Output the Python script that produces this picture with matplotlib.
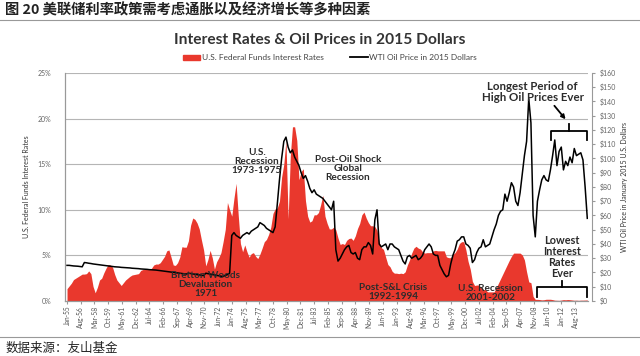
import matplotlib
matplotlib.use('Agg')
import matplotlib.pyplot as plt
import numpy as np

plt.rcParams['font.family'] = ['Lato', 'Noto Sans CJK SC', 'DejaVu Sans']

start_year = 1955
# quarterly values, 1955 Q1 .. 2015 Q1
fed_rate = [
    1.35, 1.65, 1.95, 2.35,   2.5, 2.65, 2.8, 2.95,   2.95, 3.0, 3.3, 3.0,
    1.6, 0.9, 1.5, 2.3,       2.5, 3.1, 3.6, 4.0,     3.95, 3.7, 2.9, 2.3,
    2.0, 1.7, 2.0, 2.3,       2.5, 2.7, 2.85, 2.9,    2.95, 3.0, 3.35, 3.45,
    3.45, 3.5, 3.45, 3.6,     3.95, 4.05, 4.05, 4.2,  4.55, 4.9, 5.5, 5.6,
    4.8, 3.95, 3.9, 4.2,      4.8, 5.95, 5.9, 5.9,    6.6, 8.3, 9.1, 8.95,
    8.55, 7.9, 6.7, 5.6,      3.85, 4.55, 5.55, 4.75, 3.5, 4.3, 4.75, 5.3,
    6.5, 7.85, 10.8, 10.0,    9.3, 11.25, 12.9, 9.35, 6.3, 5.4, 6.15, 5.4,
    4.8, 5.2, 5.3, 4.9,       4.65, 5.15, 5.8, 6.5,   6.75, 7.3, 8.1, 9.6,
    10.1, 10.2, 10.95, 13.6,  15.0, 17.6, 9.0, 15.9,  19.1, 19.1, 17.6, 13.3,
    14.2, 14.5, 11.0, 9.3,    8.65, 8.8, 9.45, 9.45,  9.7, 10.55, 11.6, 9.3,
    8.5, 7.9, 7.9, 8.1,       7.8, 6.9, 6.2, 6.3,     6.2, 6.65, 6.85, 6.9,
    6.65, 7.15, 7.95, 8.5,    9.45, 9.75, 9.1, 8.6,   8.25, 8.25, 8.15, 7.75,
    6.45, 5.85, 5.65, 4.8,    4.0, 3.75, 3.25, 3.05,  3.05, 3.0, 3.05, 3.0,
    3.2, 3.95, 4.5, 5.25,     5.8, 6.0, 5.8, 5.7,     5.4, 5.25, 5.3, 5.3,
    5.3, 5.5, 5.55, 5.5,      5.5, 5.5, 5.5, 4.85,    4.75, 4.75, 5.1, 5.3,
    5.7, 6.3, 6.5, 6.5,       5.6, 4.35, 3.5, 2.15,   1.7, 1.75, 1.75, 1.45,
    1.25, 1.25, 1.0, 1.0,     1.0, 1.0, 1.45, 1.95,   2.45, 2.95, 3.45, 3.95,
    4.45, 4.9, 5.25, 5.25,    5.25, 5.25, 5.05, 4.5,  3.2, 2.1, 2.0, 0.5,
    0.18, 0.18, 0.16, 0.12,   0.14, 0.19, 0.19, 0.19, 0.15, 0.09, 0.08, 0.07,
    0.1, 0.15, 0.13, 0.16,    0.14, 0.11, 0.08, 0.09, 0.07, 0.09, 0.09, 0.1,
    0.11,
]
oil_price = [
    25, 25, 24.8, 24.6,       24.5, 24.4, 24.2, 24.0,  27.0, 26.8, 26.5, 26.3,
    26.0, 25.8, 25.6, 25.4,   25.2, 25.0, 24.8, 24.6,  24.4, 24.2, 24.0, 23.9,
    23.8, 23.6, 23.5, 23.4,   23.3, 23.2, 23.0, 22.9,  22.8, 22.7, 22.5, 22.4,
    22.3, 22.2, 22.0, 21.9,   21.8, 21.7, 21.5, 21.3,  21.1, 20.9, 20.7, 20.5,
    20.3, 20.1, 19.9, 19.7,   19.5, 19.3, 19.1, 18.9,  19.5, 19.3, 19.0, 18.8,
    18.5, 18.3, 18.1, 17.8,   19.5, 19.2, 18.9, 18.6,  18.3, 18.0, 17.7, 17.4,
    17.2, 18.0, 18.5, 19.5,   46, 48, 46, 45,          44, 46, 47, 48,
    47, 49, 50, 51,           52, 55, 54, 53,          51, 50, 49, 48,
    52, 68, 85, 100,          112, 115, 108, 104,      106, 101, 98, 95,
    90, 86, 88, 84,           79, 76, 78, 75,          74, 73, 72, 70,
    68, 66, 64, 70,           36, 28, 30, 33,          36, 38, 39, 34,
    33, 34, 30, 29,           36, 38, 38, 41,          39, 33, 57, 64,
    40, 38, 39, 40,           36, 40, 40, 38,          37, 36, 32, 28,
    26, 31, 32, 30,           31, 32, 29, 30,          32, 36, 38, 40,
    38, 33, 32, 32,           25, 22, 19, 17,          18, 26, 32, 36,
    42, 43, 45, 45,           40, 39, 37, 27,          29, 34, 37, 38,
    43, 38, 39, 40,           45, 50, 54, 60,          63, 64, 75, 70,
    76, 83, 80, 70,           67, 76, 89, 102,         112, 142, 125, 60,
    45, 70, 78, 85,           88, 85, 84, 92,          102, 113, 95, 105,
    108, 92, 98, 95,          101, 97, 107, 102,       103, 104, 99, 80,
    58,
]
months = ['Jan', 'Feb', 'Mar', 'Apr', 'May', 'Jun', 'Jul', 'Aug', 'Sep', 'Oct', 'Nov', 'Dec']
rate_ticks = [0, 5, 10, 15, 20, 25]
oil_ticks = list(range(0, 161, 10))

years = start_year + np.arange(len(fed_rate)) * 0.25

red = '#E9382D'
txt = '#2b2b2b'

fig = plt.figure(figsize=(6.4, 3.56), dpi=100)
ax = fig.add_axes([0.1016, 0.1545, 0.8174, 0.6405])
ax2 = ax.twinx()

ax.fill_between(years, 0, fed_rate, color=red, lw=0, zorder=2)
ax.set_ylim(0, 25)
ax.set_xlim(1954.77, 2015.1)
ax.set_yticks(rate_ticks)
ax.set_yticklabels(['%d%%' % t for t in rate_ticks])
ax.grid(axis='y', color='#b5b5b5', lw=0.8, zorder=1)
ax.set_axisbelow(True)

ax2.plot(years, oil_price, color='black', lw=1.1, zorder=3)
ax2.set_ylim(0, 160)
ax2.set_yticks(oil_ticks)
ax2.set_yticklabels(['$%d' % t for t in oil_ticks])

# x ticks every 19 months from Jan-55
tick_pos, tick_lab = [], []
m = 0
while start_year + m / 12 < 2014:
    y = start_year + m // 12
    tick_pos.append(start_year + m / 12)
    tick_lab.append('%s-%02d' % (months[m % 12], y % 100))
    m += 19
ax.set_xticks(tick_pos)
ax.set_xticklabels(tick_lab, rotation=90, fontsize=4.8, color='#555555')

for a in (ax, ax2):
    a.spines['top'].set_visible(False)
    a.spines['right'].set_visible(False)
    a.spines['left'].set_color('#999999')
    a.spines['bottom'].set_color('#999999')
ax.tick_params(axis='y', length=0, labelsize=5, labelcolor='#666666', pad=10)
ax.tick_params(axis='x', length=2, color='#999999', pad=1.5)
ax2.tick_params(axis='y', length=2, color='#999999', labelsize=5, labelcolor='#666666', pad=3)
ax2.spines['right'].set_visible(True)
ax2.spines['right'].set_color('#999999')
ax2.spines['right'].set_position(('axes', 1.008))

ax.set_ylabel('U.S. Federal Funds Interest Rates', fontsize=5, color='#333333', labelpad=5)
ax2.set_ylabel('WTI Oil Price in January 2015 U.S. Dollars', fontsize=5, color='#333333', labelpad=4)

# annotations
kw = dict(ha='center', va='center', fontsize=7.2, fontweight='bold', color=txt, linespacing=1.0, zorder=5)
ax2.text(1971.0, 11.5, 'Bretton Woods\nDevaluation\n1971', **kw)
ax2.text(1976.9, 98, 'U.S.\nRecession\n1973-1975', **kw)
ax2.text(1987.4, 93, 'Post-Oil Shock\nGlobal\nRecession', **kw)
ax2.text(1992.6, 6.3, 'Post-S&L Crisis\n1992-1994', **kw)
ax2.text(2003.8, 5.3, 'U.S. Recession\n2001-2002', **kw)
ax2.text(2008.7, 147, 'Longest Period of\nHigh Oil Prices Ever', ha='center', va='center',
         fontsize=8.3, fontweight='bold', color=txt, linespacing=1.0, zorder=5)
ax2.text(2012.1, 31, 'Lowest\nInterest\nRates\nEver', ha='center', va='center',
         fontsize=7.8, fontweight='bold', color=txt, linespacing=1.0, zorder=5)

# brackets
ax2.plot([2010.8, 2010.8, 2015.0, 2015.0], [113, 119, 119, 113], color='black', lw=1.3, zorder=5)
ax2.plot([2012.9, 2012.9], [119, 124], color='black', lw=1.3, zorder=5)
ax2.annotate('', xy=(2012.7, 126), xytext=(2011.0, 138.5),
             arrowprops=dict(arrowstyle='-|>', color='black', lw=1.3, mutation_scale=6), zorder=5)
ax2.plot([2009.2, 2009.2, 2015.0, 2015.0], [3, 9.5, 9.5, 3], color='black', lw=1.3, zorder=5)
ax2.plot([2012.1, 2012.1], [9.5, 14], color='black', lw=1.3, zorder=5)

# titles and legend
fig.text(0.5, 0.888, 'Interest Rates & Oil Prices in 2015 Dollars', ha='center', va='center',
         fontsize=11.2, fontweight='bold', color='#333333')
fig.patches.append(matplotlib.patches.Rectangle((0.286, 0.832), 0.027, 0.014, color=red,
                                                transform=fig.transFigure, figure=fig))
fig.text(0.315, 0.839, 'U.S. Federal Funds Interest Rates', ha='left', va='center', fontsize=6, color='#444444')
fig.lines.append(matplotlib.lines.Line2D([0.547, 0.575], [0.839, 0.839], color='black', lw=1.3,
                                         transform=fig.transFigure, figure=fig))
fig.text(0.577, 0.839, 'WTI Oil Price in 2015 Dollars', ha='left', va='center', fontsize=6, color='#444444')

fig.text(0.008, 0.972, '图 20 美联储利率政策需考虑通胀以及经济增长等多种因素', ha='left', va='center',
         fontsize=10.3, fontweight='bold', color='#222222', family=['Noto Sans CJK SC', 'DejaVu Sans'])
fig.lines.append(matplotlib.lines.Line2D([0, 1], [0.943, 0.943], color='#999999', lw=0.8,
                                         transform=fig.transFigure, figure=fig))
fig.lines.append(matplotlib.lines.Line2D([0, 1], [0.052, 0.052], color='#999999', lw=0.8,
                                         transform=fig.transFigure, figure=fig))
fig.text(0.008, 0.022, '数据来源：友山基金', ha='left', va='center', fontsize=9, color='#222222',
         family=['Noto Sans CJK SC', 'DejaVu Sans'])

fig.savefig('out.png', dpi=100)
